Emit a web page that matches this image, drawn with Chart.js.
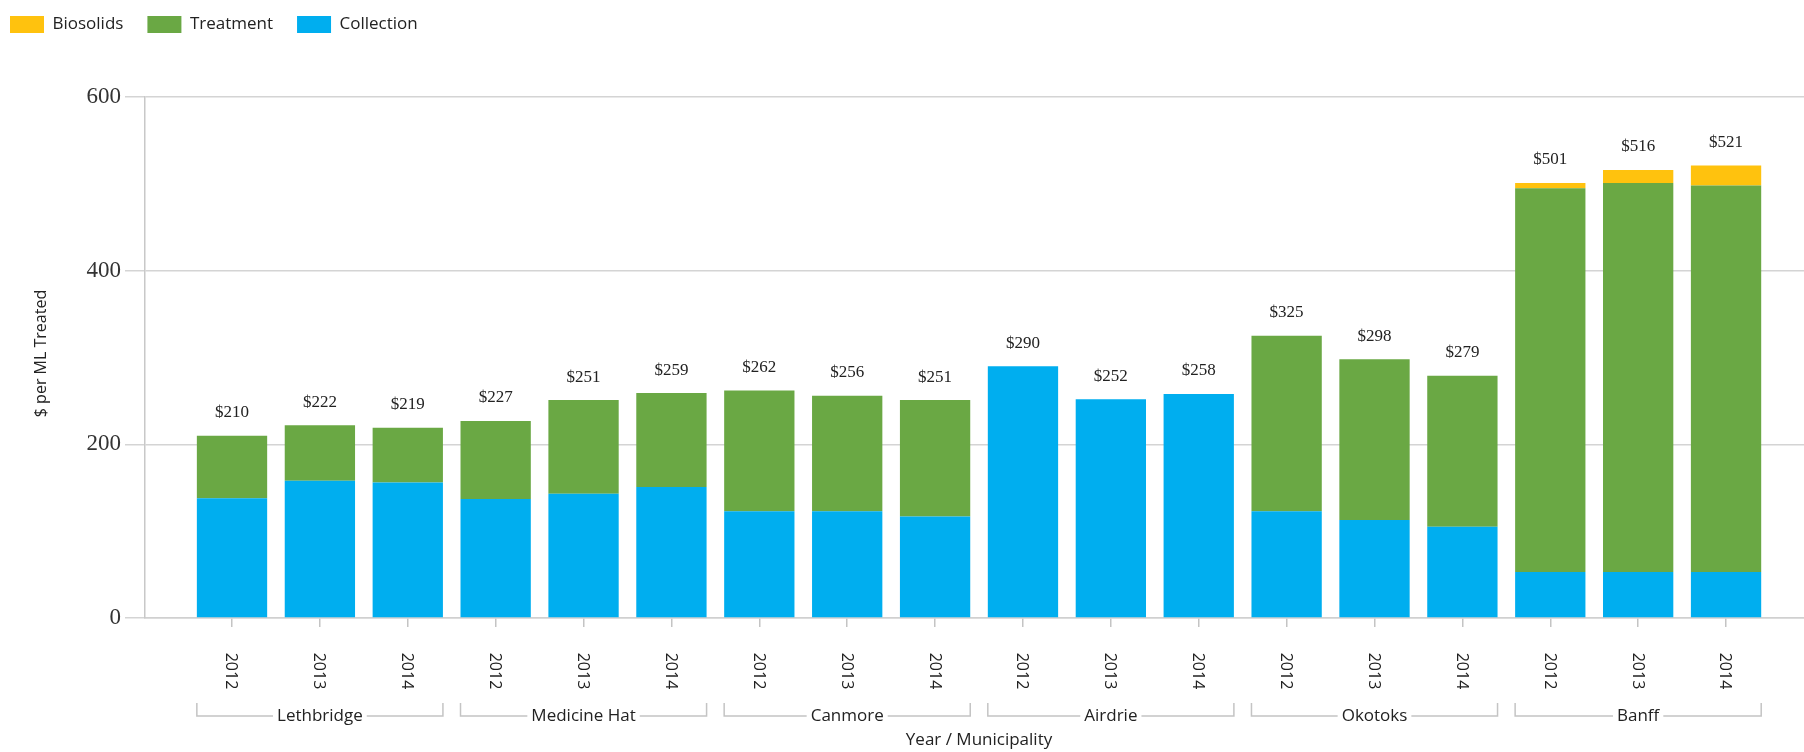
<!DOCTYPE html>
<html>
<head>
<meta charset="utf-8">
<script src="https://cdn.jsdelivr.net/npm/chart.js@4.4.1/dist/chart.umd.min.js"></script>
<style>
  html, body { margin: 0; padding: 0; background: #fff; overflow: hidden; }
  #wrap { position: absolute; left: -14px; top: -8px; width: 1818px; height: 760px; }
</style>
</head>
<body>
<div id="wrap"><canvas id="chart"></canvas></div>
<script>
// Wastewater cost per ML treated, by municipality and year
const municipalities = ['Lethbridge', 'Medicine Hat', 'Canmore', 'Airdrie', 'Okotoks', 'Banff'];
const years = ['2012', '2013', '2014'];
const collection = [138, 158, 156, 137, 143, 151, 123, 123, 117, 290, 252, 258, 123, 113, 105, 53, 53, 53];
const treatment = [72, 64, 63, 90, 108, 108, 139, 133, 134, 0, 0, 0, 202, 185, 174, 442, 448, 445];
const biosolids = [0, 0, 0, 0, 0, 0, 0, 0, 0, 0, 0, 0, 0, 0, 0, 6, 15, 23];
const totals = [210, 222, 219, 227, 251, 259, 262, 256, 251, 290, 252, 258, 325, 298, 279, 501, 516, 521];
const yTicks = [0, 200, 400, 600];

const SANS = '"Open Sans", "Noto Sans", sans-serif';
const SERIF = '"Liberation Serif", "DejaVu Serif", serif';
const COLORS = { collection: '#00aeef', treatment: '#6aa844', biosolids: '#ffc20e' };

const points = arr => arr.map((v, i) => ({ x: i, y: v }));

const legendSpace = {
  id: 'legendSpace',
  beforeInit(chart) {
    const fit = chart.legend.fit;
    chart.legend.fit = function () {
      fit.bind(chart.legend)();
      this.height += 54;
    };
  }
};

const annotations = {
  id: 'annotations',
  afterDraw(chart) {
    const { ctx, chartArea } = chart;
    const xs = chart.scales.x, ys = chart.scales.y;
    const bottom = chartArea.bottom;
    const barW = (xs.getPixelForValue(1) - xs.getPixelForValue(0)) * 0.8;
    ctx.save();

    // totals above bars
    ctx.fillStyle = '#222';
    ctx.font = '17px ' + SERIF;
    ctx.textAlign = 'center';
    ctx.textBaseline = 'middle';
    totals.forEach((t, i) => {
      ctx.fillText('$' + t, xs.getPixelForValue(i), ys.getPixelForValue(t) - 23);
    });

    // year labels, rotated clockwise
    ctx.font = '16px ' + SANS;
    totals.forEach((t, i) => {
      ctx.save();
      ctx.translate(xs.getPixelForValue(i), bottom + 53);
      ctx.rotate(Math.PI / 2);
      ctx.fillText(years[i % 3], 0, 1);
      ctx.restore();
    });

    // municipality brackets
    ctx.font = '17px ' + SANS;
    ctx.strokeStyle = '#c4c4c4';
    ctx.lineWidth = 1.5;
    municipalities.forEach((m, g) => {
      const x0 = xs.getPixelForValue(g * 3) - barW / 2;
      const x1 = xs.getPixelForValue(g * 3 + 2) + barW / 2;
      const xc = xs.getPixelForValue(g * 3 + 1);
      const yl = bottom + 98;
      const half = ctx.measureText(m).width / 2 + 4;
      ctx.beginPath();
      ctx.moveTo(x0, bottom + 85); ctx.lineTo(x0, yl); ctx.lineTo(xc - half, yl);
      ctx.moveTo(xc + half, yl); ctx.lineTo(x1, yl); ctx.lineTo(x1, bottom + 85);
      ctx.stroke();
      ctx.fillText(m, xc, yl);
    });

    // axis titles
    const xMid = (xs.getPixelForValue(0) + xs.getPixelForValue(totals.length - 1)) / 2;
    ctx.fillText('Year / Municipality', xMid, bottom + 122);
    ctx.font = '16px ' + SANS;
    ctx.save();
    ctx.translate(chartArea.left - 104, (chartArea.top + chartArea.bottom) / 2 - 4);
    ctx.rotate(-Math.PI / 2);
    ctx.fillText('$ per ML Treated', 0, 0);
    ctx.restore();

    ctx.restore();
  }
};

new Chart(document.getElementById('chart'), {
  type: 'bar',
  data: {
    datasets: [
      { label: 'Collection', data: points(collection), backgroundColor: COLORS.collection },
      { label: 'Treatment', data: points(treatment), backgroundColor: COLORS.treatment },
      { label: 'Biosolids', data: points(biosolids), backgroundColor: COLORS.biosolids },
    ]
  },
  options: {
    responsive: true,
    maintainAspectRatio: false,
    animation: false,
    layout: { padding: 0 },
    datasets: { bar: { categoryPercentage: 1, barPercentage: 0.8, borderWidth: 0 } },
    plugins: {
      tooltip: { enabled: false },
      legend: {
        position: 'top',
        align: 'start',
        reverse: true,
        labels: {
          boxWidth: 34,
          boxHeight: 17,
          padding: 24,
          color: '#222',
          font: { family: SANS, size: 17 }
        }
      }
    },
    scales: {
      x: {
        type: 'linear',
        stacked: true,
        offset: false,
        min: -0.99,
        max: 17.887,
        afterFit: s => { s.height = 134; },
        ticks: { display: false, stepSize: 1, includeBounds: false },
        grid: { offset: false, drawOnChartArea: false, drawTicks: true, tickLength: 9, color: '#c4c4c4', lineWidth: 1.5 },
        border: { display: true, color: '#d0d0d0', width: 1.5 }
      },
      y: {
        stacked: true,
        min: 0,
        max: 600,
        afterFit: s => { s.width = 159; },
        afterBuildTicks: s => { s.ticks = yTicks.map(v => ({ value: v })); },
        ticks: { color: '#333', padding: 4, font: { family: SERIF, size: 23 } },
        grid: { color: '#d4d4d4', lineWidth: 1.5, tickLength: 20 },
        border: { display: true, color: '#c8c8c8', width: 1.5 }
      }
    }
  },
  plugins: [legendSpace, annotations]
});
</script>
</body>
</html>
